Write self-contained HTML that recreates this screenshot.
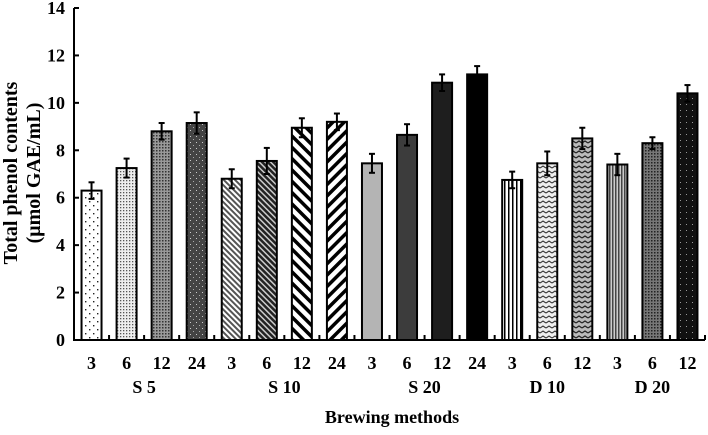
<!DOCTYPE html>
<html><head><meta charset="utf-8"><style>
html,body{margin:0;padding:0;background:#fff;}
svg{display:block;font-family:"Liberation Serif",serif;font-weight:bold;}
</style></head><body>
<svg id="chart" width="708" height="435" viewBox="0 0 708 435">
<defs>
<pattern id="p0" width="8" height="8" patternUnits="userSpaceOnUse"><rect width="8" height="8" fill="#fff"/><rect x="1" y="1" width="1.4" height="1.4" fill="#222"/><rect x="5" y="5" width="1.4" height="1.4" fill="#222"/></pattern>
<pattern id="p1" width="3" height="3" patternUnits="userSpaceOnUse"><rect width="3" height="3" fill="#eee"/><rect x="0" y="0" width="1.3" height="1.3" fill="#555"/></pattern>
<pattern id="p2" width="3" height="3" patternUnits="userSpaceOnUse"><rect width="3" height="3" fill="#999"/><rect x="0" y="0" width="1.5" height="1.5" fill="#333"/></pattern>
<pattern id="p3" width="6" height="6" patternUnits="userSpaceOnUse"><rect width="6" height="6" fill="#444"/><rect x="1" y="1" width="1" height="1" fill="#aaa"/><rect x="4" y="4" width="1" height="1" fill="#ccc"/></pattern>
<pattern id="p4" width="4" height="4" patternUnits="userSpaceOnUse" patternTransform="rotate(45)"><rect width="4" height="4" fill="#fff"/><rect width="4" height="2" fill="#555"/></pattern>
<pattern id="p5" width="4" height="4" patternUnits="userSpaceOnUse" patternTransform="rotate(45)"><rect width="4" height="4" fill="#ccc"/><rect width="4" height="2.5" fill="#222"/></pattern>
<pattern id="p6" width="8" height="8" patternUnits="userSpaceOnUse" patternTransform="rotate(45)"><rect width="8" height="8" fill="#fff"/><rect width="8" height="3.5" fill="#000"/></pattern>
<pattern id="p7" width="8" height="8" patternUnits="userSpaceOnUse" patternTransform="rotate(-45)"><rect width="8" height="8" fill="#fff"/><rect width="8" height="3.5" fill="#000"/></pattern>
<pattern id="p12" width="4" height="4" patternUnits="userSpaceOnUse"><rect width="4" height="4" fill="#fff"/><rect width="1.5" height="4" fill="#000"/></pattern>
<pattern id="p13" width="6" height="5" patternUnits="userSpaceOnUse"><rect width="6" height="5" fill="#eee"/><path d="M0,3 L3,1 L6,3" stroke="#333" stroke-width="1.1" fill="none"/></pattern>
<pattern id="p14" width="6" height="5" patternUnits="userSpaceOnUse"><rect width="6" height="5" fill="#bbb"/><path d="M0,3 L3,1 L6,3" stroke="#222" stroke-width="1.3" fill="none"/></pattern>
<pattern id="p15" width="3" height="3" patternUnits="userSpaceOnUse"><rect width="3" height="3" fill="#ccc"/><rect width="1.5" height="3" fill="#444"/></pattern>
<pattern id="p16" width="3" height="3" patternUnits="userSpaceOnUse"><rect width="3" height="3" fill="#777"/><rect width="1.5" height="1.5" fill="#222"/></pattern>
<pattern id="p17" width="6" height="6" patternUnits="userSpaceOnUse"><rect width="6" height="6" fill="#111"/><rect x="2" y="2" width="1" height="1" fill="#999"/></pattern>
</defs>
<g id="bars"></g>
<g id="axes"></g>
<text x="392" y="423" text-anchor="middle" font-size="18">Brewing methods</text>
<g transform="translate(17,173) rotate(-90)">
<text x="0" y="0" text-anchor="middle" font-size="20">Total phenol contents</text>
<text x="0" y="23" text-anchor="middle" font-size="20">(μmol GAE/mL)</text>
</g>
</svg>
<script>
const times = ["3","6","12","24","3","6","12","24","3","6","12","24","3","6","12","3","6","12"];
const values = [6.3,7.25,8.8,9.15,6.8,7.55,8.95,9.2,7.45,8.65,10.85,11.2,6.75,7.45,8.5,7.4,8.3,10.4];
const errors = [0.35,0.4,0.35,0.45,0.4,0.55,0.4,0.35,0.4,0.45,0.35,0.35,0.35,0.5,0.45,0.45,0.25,0.35];
const groups = ["S 5","S 10","S 20","D 10","D 20"];
const groupSizes = [4,4,4,3,3];
const yTicks = [0,2,4,6,8,10,12,14];
const fills = ["url(#p0)","url(#p1)","url(#p2)","url(#p3)","url(#p4)","url(#p5)","url(#p6)","url(#p7)","#b4b4b4","#3c3c3c","#1e1e1e","#000","url(#p12)","url(#p13)","url(#p14)","url(#p15)","url(#p16)","url(#p17)"];

const NS="http://www.w3.org/2000/svg";
const x0=74,x1=705,yBase=340,yTop=8,yMax=14;
const slot=(x1-x0)/values.length, bw=20;
const y=v=>yBase-(v/yMax)*(yBase-yTop);
const xc=i=>x0+slot*(i+0.5);
function mk(tag,attrs,parent){const e=document.createElementNS(NS,tag);for(const k in attrs)e.setAttribute(k,attrs[k]);parent.appendChild(e);return e;}
const bars=document.getElementById('bars'), axes=document.getElementById('axes');
values.forEach((v,i)=>{
  const r=mk('rect',{x:xc(i)-bw/2,y:y(v),width:bw,height:yBase-y(v),fill:fills[i],stroke:'#000','stroke-width':2},bars);
  
  
  const g=mk('g',{stroke:'#000','stroke-width':2},bars);
  
  
  mk('line',{x1:xc(i),x2:xc(i),y1:y(v+errors[i]),y2:y(v-errors[i])},g);
  mk('line',{x1:xc(i)-3,x2:xc(i)+3,y1:y(v+errors[i]),y2:y(v+errors[i])},g);
  mk('line',{x1:xc(i)-3,x2:xc(i)+3,y1:y(v-errors[i]),y2:y(v-errors[i])},g);
  const t=mk('text',{x:xc(i),y:369,'text-anchor':'middle','font-size':18},axes);
  t.textContent=times[i];
  
  
});
const ya=mk('line',{x1:x0,x2:x0,y1:yTop,y2:yBase+1,stroke:'#000','stroke-width':2},axes);


const xa=mk('line',{x1:x0-1,x2:x1,y1:yBase,y2:yBase,stroke:'#000','stroke-width':2},axes);


yTicks.forEach(t=>{
  mk('line',{x1:x0,x2:x0+5,y1:y(t),y2:y(t),stroke:'#000','stroke-width':2},axes);
  const l=mk('text',{x:x0-9,y:y(t)+6,'text-anchor':'end','font-size':18},axes);
  l.textContent=t;
  
  
});
for(let i=1;i<=values.length;i++){mk('line',{x1:x0+slot*i,x2:x0+slot*i,y1:yBase,y2:yBase-5,stroke:'#000','stroke-width':2},axes);}
let start=0;
groups.forEach((g,k)=>{
  const n=groupSizes[k];
  const cx=(xc(start)+xc(start+n-1))/2;
  const t=mk('text',{x:cx,y:393,'text-anchor':'middle','font-size':18},axes);
  t.textContent=g;
  
  
  start+=n;
});
</script>
</body></html>
